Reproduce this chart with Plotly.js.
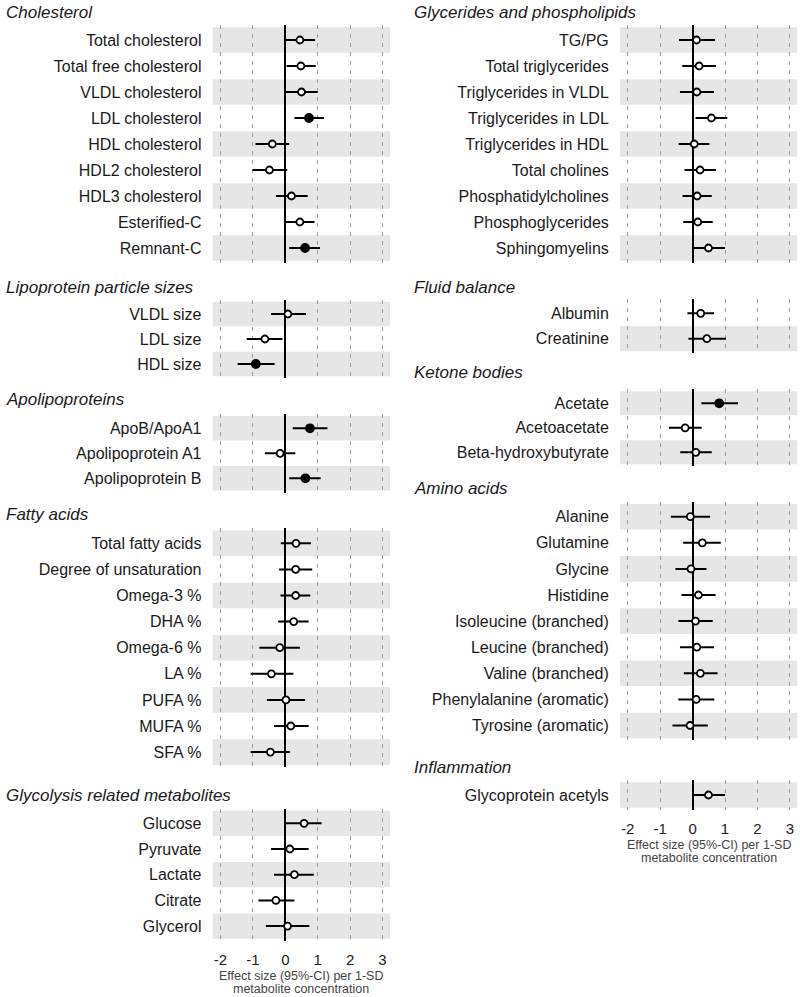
<!DOCTYPE html>
<html>
<head>
<meta charset="utf-8">
<script src="https://cdn.plot.ly/plotly-3.0.1.min.js"></script>
<style>
  html, body { margin: 0; padding: 0; background: #fff; }
  #chart { width: 800px; height: 997px; }
</style>
</head>
<body>
<div id="chart"></div>
<script>
// Effect sizes (95%-CI) per 1-SD metabolite concentration
const cholLabels = ['Total cholesterol', 'Total free cholesterol', 'VLDL cholesterol', 'LDL cholesterol',
    'HDL cholesterol', 'HDL2 cholesterol', 'HDL3 cholesterol', 'Esterified-C', 'Remnant-C'];
const cholEst = [0.45, 0.48, 0.50, 0.73, -0.40, -0.49, 0.19, 0.45, 0.61];
const cholLo = [0.02, 0.04, 0.02, 0.28, -0.92, -1.01, -0.29, 0.02, 0.12];
const cholHi = [0.92, 0.94, 1.00, 1.19, 0.12, 0.06, 0.69, 0.90, 1.07];

const sizeLabels = ['VLDL size', 'LDL size', 'HDL size'];
const sizeEst = [0.08, -0.63, -0.91];
const sizeLo = [-0.44, -1.19, -1.47];
const sizeHi = [0.64, -0.09, -0.33];

const apoLabels = ['ApoB/ApoA1', 'Apolipoprotein A1', 'Apolipoprotein B'];
const apoEst = [0.76, -0.16, 0.62];
const apoLo = [0.23, -0.63, 0.12];
const apoHi = [1.30, 0.31, 1.09];

const fattyLabels = ['Total fatty acids', 'Degree of unsaturation', 'Omega-3 %', 'DHA %', 'Omega-6 %',
    'LA %', 'PUFA %', 'MUFA %', 'SFA %'];
const fattyEst = [0.33, 0.32, 0.32, 0.26, -0.17, -0.43, 0.02, 0.17, -0.46];
const fattyLo = [-0.14, -0.19, -0.15, -0.22, -0.80, -1.07, -0.57, -0.35, -1.07];
const fattyHi = [0.79, 0.83, 0.77, 0.72, 0.45, 0.25, 0.61, 0.72, 0.14];

const glycoLabels = ['Glucose', 'Pyruvate', 'Lactate', 'Citrate', 'Glycerol'];
const glycoEst = [0.58, 0.14, 0.28, -0.29, 0.07];
const glycoLo = [0.02, -0.44, -0.35, -0.83, -0.60];
const glycoHi = [1.12, 0.72, 0.88, 0.28, 0.74];

const tgLabels = ['TG/PG', 'Total triglycerides', 'Triglycerides in VLDL', 'Triglycerides in LDL',
    'Triglycerides in HDL', 'Total cholines', 'Phosphatidylcholines', 'Phosphoglycerides', 'Sphingomyelins'];
const tgEst = [0.12, 0.20, 0.13, 0.58, 0.05, 0.23, 0.14, 0.16, 0.49];
const tgLo = [-0.42, -0.32, -0.39, 0.09, -0.43, -0.25, -0.31, -0.29, 0.00];
const tgHi = [0.69, 0.72, 0.66, 1.07, 0.52, 0.72, 0.59, 0.62, 1.00];

const fluidLabels = ['Albumin', 'Creatinine'];
const fluidEst = [0.25, 0.44];
const fluidLo = [-0.16, -0.13];
const fluidHi = [0.66, 1.03];

const ketoneLabels = ['Acetate', 'Acetoacetate', 'Beta-hydroxybutyrate'];
const ketoneEst = [0.82, -0.23, 0.10];
const ketoneLo = [0.27, -0.73, -0.38];
const ketoneHi = [1.40, 0.28, 0.59];

const aminoLabels = ['Alanine', 'Glutamine', 'Glycine', 'Histidine', 'Isoleucine (branched)',
    'Leucine (branched)', 'Valine (branched)', 'Phenylalanine (aromatic)', 'Tyrosine (aromatic)'];
const aminoEst = [-0.07, 0.30, -0.05, 0.18, 0.09, 0.13, 0.24, 0.11, -0.08];
const aminoLo = [-0.67, -0.29, -0.53, -0.34, -0.44, -0.39, -0.27, -0.44, -0.62];
const aminoHi = [0.54, 0.87, 0.43, 0.71, 0.62, 0.66, 0.77, 0.67, 0.47];

const inflamLabels = ['Glycoprotein acetyls'];
const inflamEst = [0.49];
const inflamLo = [0.00];
const inflamHi = [1.00];

// filled markers = significant associations
const significant = ['LDL cholesterol', 'Remnant-C', 'HDL size', 'ApoB/ApoA1', 'Apolipoprotein B', 'Acetate'];
const xTicks = [-2, -1, 0, 1, 2, 3];
const xTickText = ['-2', '-1', '0', '1', '2', '3'];
const xTitleLines = ['Effect size (95%-CI) per 1-SD', 'metabolite concentration'];

const W = 800, H = 997;
const PAD = 0.57;
const FONT = '"Liberation Sans", Arial, sans-serif';
const cols = [
    { x0: 212.7, x1: 390, titleX: 4 },
    { x0: 620, x1: 797.3, titleX: 412 }
];

const panels = [
    { title: 'Cholesterol', labels: cholLabels, est: cholEst, lo: cholLo, hi: cholHi, col: 0, titleY: 12, firstY: 40, step: 26 },
    { title: 'Lipoprotein particle sizes', labels: sizeLabels, est: sizeEst, lo: sizeLo, hi: sizeHi, col: 0, titleY: 287, firstY: 314, step: 25 },
    { title: 'Apolipoproteins', labels: apoLabels, est: apoEst, lo: apoLo, hi: apoHi, col: 0, titleY: 400, firstY: 428.3, step: 25 },
    { title: 'Fatty acids', labels: fattyLabels, est: fattyEst, lo: fattyLo, hi: fattyHi, col: 0, titleY: 514, firstY: 543.3, step: 26.1 },
    { title: 'Glycolysis related metabolites', labels: glycoLabels, est: glycoEst, lo: glycoLo, hi: glycoHi, col: 0, titleY: 795, firstY: 823.3, step: 25.7, bottom: true },
    { title: 'Glycerides and phospholipids', labels: tgLabels, est: tgEst, lo: tgLo, hi: tgHi, col: 1, titleY: 12, firstY: 40, step: 26 },
    { title: 'Fluid balance', labels: fluidLabels, est: fluidEst, lo: fluidLo, hi: fluidHi, col: 1, titleY: 287, firstY: 313.3, step: 25.4 },
    { title: 'Ketone bodies', labels: ketoneLabels, est: ketoneEst, lo: ketoneLo, hi: ketoneHi, col: 1, titleY: 372, firstY: 403.3, step: 24.5 },
    { title: 'Amino acids', labels: aminoLabels, est: aminoEst, lo: aminoLo, hi: aminoHi, col: 1, titleY: 488, firstY: 516.7, step: 26.1 },
    { title: 'Inflammation', labels: inflamLabels, est: inflamEst, lo: inflamLo, hi: inflamHi, col: 1, titleY: 767, firstY: 795, step: 26, bottom: true }
];

const traces = [];
const shapes = [];
const annotations = [];
const layout = {
    width: W,
    height: H,
    margin: { t: 0, r: 0, b: 0, l: 0 },
    paper_bgcolor: '#ffffff',
    plot_bgcolor: '#ffffff',
    showlegend: false,
    font: { family: FONT, color: '#1a1a1a', size: 16 }
};

panels.forEach((p, i) => {
    const n = p.labels.length;
    const k = i === 0 ? '' : String(i + 1);
    const xr = 'x' + k, yr = 'y' + k;
    const c = cols[p.col];
    const top = p.firstY - PAD * p.step;
    const bottom = p.firstY + (n - 1 + PAD) * p.step;
    const rows = p.labels.map((_, j) => j);

    layout['xaxis' + k] = {
        domain: [c.x0 / W, c.x1 / W],
        anchor: yr,
        range: [-2.24, 3.23],
        tickmode: 'array',
        tickvals: xTicks,
        ticktext: xTickText,
        showticklabels: !!p.bottom,
        tickfont: { size: 15, color: '#222' },
        ticks: p.bottom ? 'outside' : '',
        ticklen: 5,
        tickcolor: 'rgba(0,0,0,0)',
        showgrid: true,
        gridcolor: '#9c9c9c',
        gridwidth: 1,
        griddash: '4px,5px',
        zeroline: true,
        zerolinecolor: '#000000',
        zerolinewidth: 1.8,
        showline: false,
        fixedrange: true
    };
    layout['yaxis' + k] = {
        domain: [1 - bottom / H, 1 - top / H],
        anchor: xr,
        range: [n - 1 + PAD, -PAD],
        tickmode: 'array',
        tickvals: rows,
        ticktext: p.labels,
        tickfont: { size: 16, color: '#1a1a1a' },
        ticks: 'outside',
        ticklen: 7,
        tickcolor: 'rgba(0,0,0,0)',
        showgrid: false,
        zeroline: false,
        showline: false,
        fixedrange: true
    };

    const filled = p.labels.map(l => significant.includes(l));
    traces.push({
        type: 'scatter',
        mode: 'markers',
        x: p.est,
        y: rows,
        xaxis: xr,
        yaxis: yr,
        error_x: {
            type: 'data',
            symmetric: false,
            array: p.hi.map((h, j) => h - p.est[j]),
            arrayminus: p.lo.map((l, j) => p.est[j] - l),
            color: '#000000',
            thickness: 2,
            width: 0
        },
        marker: {
            symbol: 'circle',
            opacity: 1,
            size: filled.map(f => f ? 8 : 7),
            color: filled.map(f => f ? '#000000' : '#ffffff'),
            line: { color: '#000000', width: 1.8 }
        },
        hoverinfo: 'x+text',
        text: p.labels
    });

    // alternating grey bands, counted from the bottom row of each panel
    rows.forEach(j => {
        if ((n - 1 - j) % 2 === 0) {
            shapes.push({
                type: 'rect', layer: 'below',
                xref: xr + ' domain', yref: yr,
                x0: 0, x1: 1, y0: j - 0.49, y1: j + 0.49,
                fillcolor: '#e6e6e6', line: { width: 0 }
            });
        }
    });

    annotations.push({
        text: '<i>' + p.title + '</i>',
        xref: 'paper', yref: 'paper',
        x: c.titleX / W, y: 1 - p.titleY / H,
        xanchor: 'left', yanchor: 'middle',
        showarrow: false,
        font: { size: 17, color: '#1a1a1a' }
    });

    if (p.bottom) {
        xTitleLines.forEach((line, li) => {
            annotations.push({
                text: line,
                xref: 'paper', yref: 'paper',
                x: (c.x0 + c.x1) / 2 / W, y: 1 - (bottom + 35 + li * 13) / H,
                xanchor: 'center', yanchor: 'middle',
                showarrow: false,
                font: { size: 12.5, color: '#444' }
            });
        });
    }
});

layout.shapes = shapes;
layout.annotations = annotations;

Plotly.newPlot('chart', traces, layout, { displayModeBar: false, staticPlot: true });
</script>
</body>
</html>
